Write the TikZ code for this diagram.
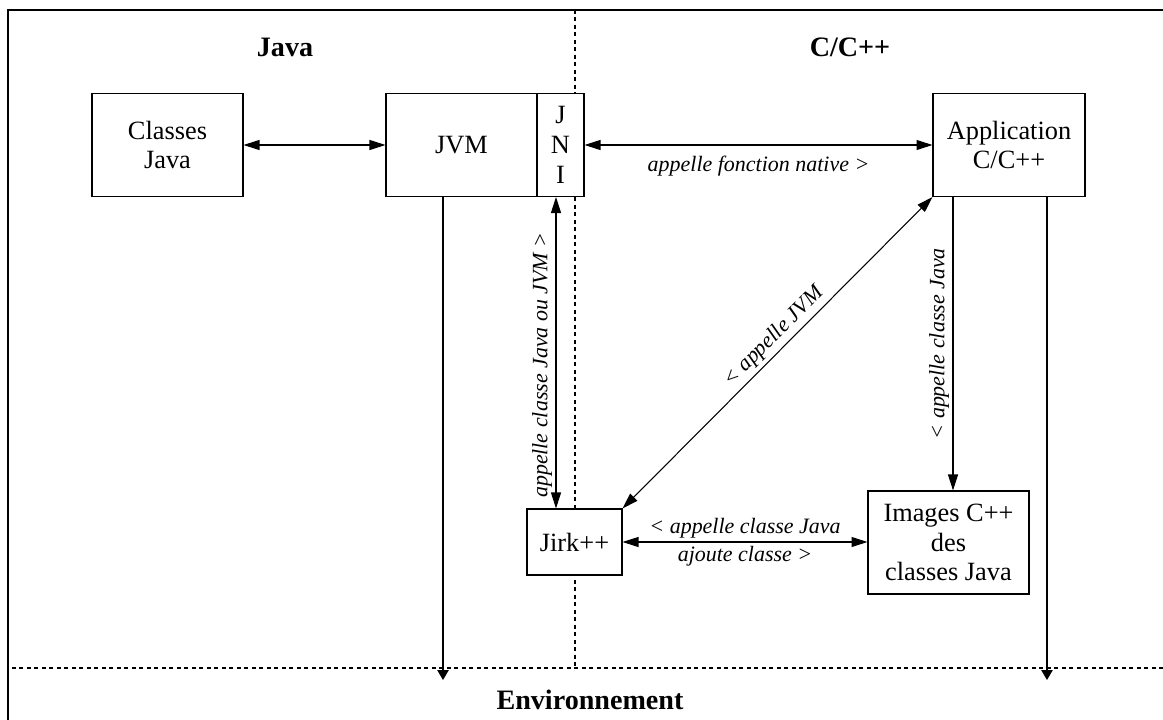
\documentclass[tikz,border=0pt]{standalone}
\usepackage{fontspec}
\setmainfont{Liberation Serif}
\usetikzlibrary{arrows.meta, positioning, calc}

\begin{document}
\begin{tikzpicture}[
  x=0.02cm, y=-0.02cm,
  >={Triangle[length=3.2mm, width=2mm]},
  box/.style={draw, fill=white, line width=0.6pt, inner sep=0pt, align=center,
    font=\fontsize{15}{17}\selectfont},
  lbl/.style={font=\fontsize{12.5}{14}\selectfont\itshape, inner sep=2pt},
  head/.style={font=\fontsize{16}{18}\selectfont\bfseries},
  arr/.style={->, line width=0.6pt},
  biarr/.style={<->, line width=0.6pt},
  envarr/.style={-{Triangle[length=2mm, width=2.3mm]}, line width=0.6pt},
  sep/.style={line width=0.6pt, dash pattern=on 0.08cm off 0.07cm},
]

\useasboundingbox (0,0) rectangle (1163,720);

% Frame
\draw[line width=1.7pt] (8,720) -- (8,10) -- (1163,10);

% Separators
\draw[sep] (575,10) -- (575,668);
\draw[sep] (12,668) -- (1163,668);

% Titles
\node[head] (tjava) at (285,47) {Java};
\node[head] (tcpp) at (850,47) {C/C++};
\node[head] (tenv) at (590,700) {Environnement};

% =============================================
% Java side
% =============================================
\node[box, minimum width=3.02cm, minimum height=2.06cm] (classes) at (167.5,145)
  {Classes\\Java};
\node[box, minimum width=3.02cm, minimum height=2.06cm] (jvm) at (461.5,145)
  {JVM};
\node[box, minimum width=0.94cm, minimum height=2.06cm] (jni) at (560.5,145)
  {J\\N\\I};

% Classes <-> JVM
\draw[biarr] (classes.east) -- (jvm.west);

% =============================================
% C/C++ side
% =============================================
\node[box, minimum width=3.04cm, minimum height=2.06cm] (app) at (1009,145)
  {Application\\C/C++};
\node[box, minimum width=1.9cm, minimum height=1.32cm] (jirk) at (574.5,542)
  {Jirk++};
\node[box, minimum width=3.22cm, minimum height=2.06cm] (images) at (948.5,542.5)
  {Images C++\\des\\classes Java};

% JNI <-> Application
\draw[biarr] (jni.east) -- (app.west)
  node[lbl, midway, below=4pt] {appelle fonction native >};

% JNI <-> Jirk++
\coordinate (jnib) at ([xshift=-0.09cm]jni.south);
\draw[biarr] (jnib |- jirk.north) -- (jnib)
  node[lbl, pos=0.46, sloped, above] {appelle classe Java ou JVM >};

% Jirk++ <-> Application
\draw[biarr] (jirk.north east) -- (app.south west)
  node[lbl, pos=0.52, sloped, above] {< appelle JVM};

% Application -> Images
\coordinate (appl) at ([xshift=-1.12cm]app.south);
\draw[arr] (appl) -- (appl |- images.north)
  node[lbl, midway, rotate=90, anchor=south] {< appelle classe Java};

% Jirk++ <-> Images
\draw[biarr] (jirk.east) -- (jirk.east -| images.west)
  node[lbl, midway, above] {< appelle classe Java}
  node[lbl, midway, below] {ajoute classe >};

% =============================================
% Towards the environment
% =============================================
\coordinate (jvmb) at ([xshift=-0.37cm]jvm.south);
\coordinate (envjava) at (jvmb |- 0,680);
\draw[envarr] (jvmb) -- (envjava);

\coordinate (appr) at ([xshift=0.76cm]app.south);
\coordinate (envcpp) at (appr |- 0,680);
\draw[envarr] (appr) -- (envcpp);

\end{tikzpicture}
\end{document}
